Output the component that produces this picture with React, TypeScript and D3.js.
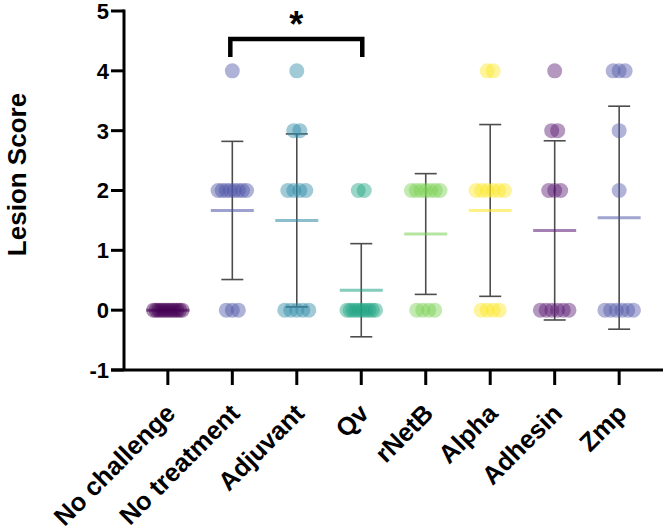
import React from "react";
import * as d3 from "d3";

// Lesion scores per group (one entry per animal)
const categories = ["No challenge", "No treatment", "Adjuvant", "Qv", "rNetB", "Alpha", "Adhesin", "Zmp"];
const noChallenge = [0, 0, 0, 0, 0, 0, 0, 0, 0, 0, 0, 0];
const noTreatment = [4, 2, 2, 2, 2, 2, 2, 2, 2, 0, 0, 0];
const adjuvant = [4, 3, 3, 2, 2, 2, 2, 0, 0, 0, 0, 0];
const qv = [2, 2, 0, 0, 0, 0, 0, 0, 0, 0, 0, 0];
const rNetB = [2, 2, 2, 2, 2, 2, 2, 0, 0, 0, 0];
const alpha = [4, 4, 2, 2, 2, 2, 2, 2, 0, 0, 0, 0];
const adhesin = [4, 3, 3, 2, 2, 2, 0, 0, 0, 0, 0, 0];
const zmp = [4, 4, 4, 3, 2, 0, 0, 0, 0, 0, 0];
const groupValues = [noChallenge, noTreatment, adjuvant, qv, rNetB, alpha, adhesin, zmp];
const groupColors = ["#440154", "#4e54a6", "#2f89a6", "#1fa383", "#79d151", "#fde725", "#5b1a74", "#5259a8"];
const yTicks = [-1, 0, 1, 2, 3, 4, 5];
const yTickLabels = ["-1", "0", "1", "2", "3", "4", "5"];
const sigPair = ["No treatment", "Qv"];
const sigLabel = "*";

const W = 666;
const H = 531;
const FONT = "'Liberation Sans', Arial, sans-serif";

export default function App() {
  const axisX = 124;
  const x = d3.scalePoint<string>().domain(categories).range([axisX, 663]).padding(0.68);
  const y = d3.scaleLinear().domain([-1, 5]).range([370, 11]);
  const r = 7.5;

  const groups = categories.map((c, i) => {
    const vals = groupValues[i];
    const mean = d3.mean(vals) ?? 0;
    const sd = d3.deviation(vals) ?? 0;
    // spread tied scores horizontally around the category centre
    const counts = d3.rollup(vals, (v) => v.length, (v) => v);
    const seen = new Map<number, number>();
    const pts = vals.map((v) => {
      const n = counts.get(v) ?? 1;
      const k = seen.get(v) ?? 0;
      seen.set(v, k + 1);
      const step = n > 1 ? Math.min(6, 28.5 / (n - 1)) : 0;
      return { cx: (x(c) ?? 0) + (k - (n - 1) / 2) * step, cy: y(v) };
    });
    return { c, cx: x(c) ?? 0, mean, sd, pts, color: groupColors[i] };
  });

  const sx1 = (x(sigPair[0]) ?? 0) - 2;
  const sx2 = (x(sigPair[1]) ?? 0) + 1;
  const sy = 39;

  return (
    <svg width={W} height={H} style={{ position: "absolute", left: 0, top: 0, background: "#fff" }} fontFamily={FONT}>
      {/* error bars (mean ± SD) */}
      {groups.map((g) =>
        g.sd > 0 ? (
          <g key={"eb" + g.c} stroke="#4d4d4d" strokeWidth={1.6}>
            <line x1={g.cx} x2={g.cx} y1={y(g.mean + g.sd)} y2={y(g.mean - g.sd)} />
            <line x1={g.cx - 11} x2={g.cx + 11} y1={y(g.mean + g.sd)} y2={y(g.mean + g.sd)} />
            <line x1={g.cx - 11} x2={g.cx + 11} y1={y(g.mean - g.sd)} y2={y(g.mean - g.sd)} />
          </g>
        ) : null
      )}
      {/* mean lines */}
      {groups.map((g) => (
        <line key={"m" + g.c} x1={g.cx - 21.5} x2={g.cx + 21.5} y1={y(g.mean)} y2={y(g.mean)}
          stroke={g.color} strokeOpacity={0.55} strokeWidth={3} />
      ))}
      {/* individual scores */}
      {groups.map((g) => (
        <g key={"p" + g.c} fill={g.color} fillOpacity={0.45}>
          {g.pts.map((p, j) => (
            <circle key={j} cx={p.cx} cy={p.cy} r={r} />
          ))}
        </g>
      ))}

      {/* y axis */}
      <line x1={axisX} x2={axisX} y1={y(5) - 1.5} y2={y(-1)} stroke="#000" strokeWidth={3} />
      {yTicks.map((t, i) => (
        <g key={"yt" + t}>
          <line x1={axisX - 13} x2={axisX} y1={y(t)} y2={y(t)} stroke="#000" strokeWidth={3} />
          <text x={axisX - 15} y={y(t)} dy="0.36em" textAnchor="end" fontSize={22} fontWeight="bold">
            {yTickLabels[i]}
          </text>
        </g>
      ))}
      <text transform={`translate(26,${(y(5) + y(-1)) / 2 - 16}) rotate(-90)`} textAnchor="middle"
        fontSize={26} fontWeight="bold">
        Lesion Score
      </text>

      {/* x axis */}
      <line x1={axisX - 13} x2={663} y1={y(-1)} y2={y(-1)} stroke="#000" strokeWidth={3} />
      {categories.map((c) => (
        <g key={"xt" + c}>
          <line x1={x(c)} x2={x(c)} y1={y(-1)} y2={y(-1) + 15} stroke="#000" strokeWidth={3} />
          <text transform={`translate(${(x(c) ?? 0) + 9},${415}) rotate(-45)`} textAnchor="end"
            fontSize={25.5} fontWeight="bold">
            {c}
          </text>
        </g>
      ))}

      {/* significance bracket */}
      <path d={`M${sx1},57 V${sy} H${sx2} V57`} fill="none" stroke="#000" strokeWidth={4.5} />
      <text x={(sx1 + sx2) / 2} y={37} textAnchor="middle" fontSize={36} fontWeight="bold">
        {sigLabel}
      </text>
    </svg>
  );
}
